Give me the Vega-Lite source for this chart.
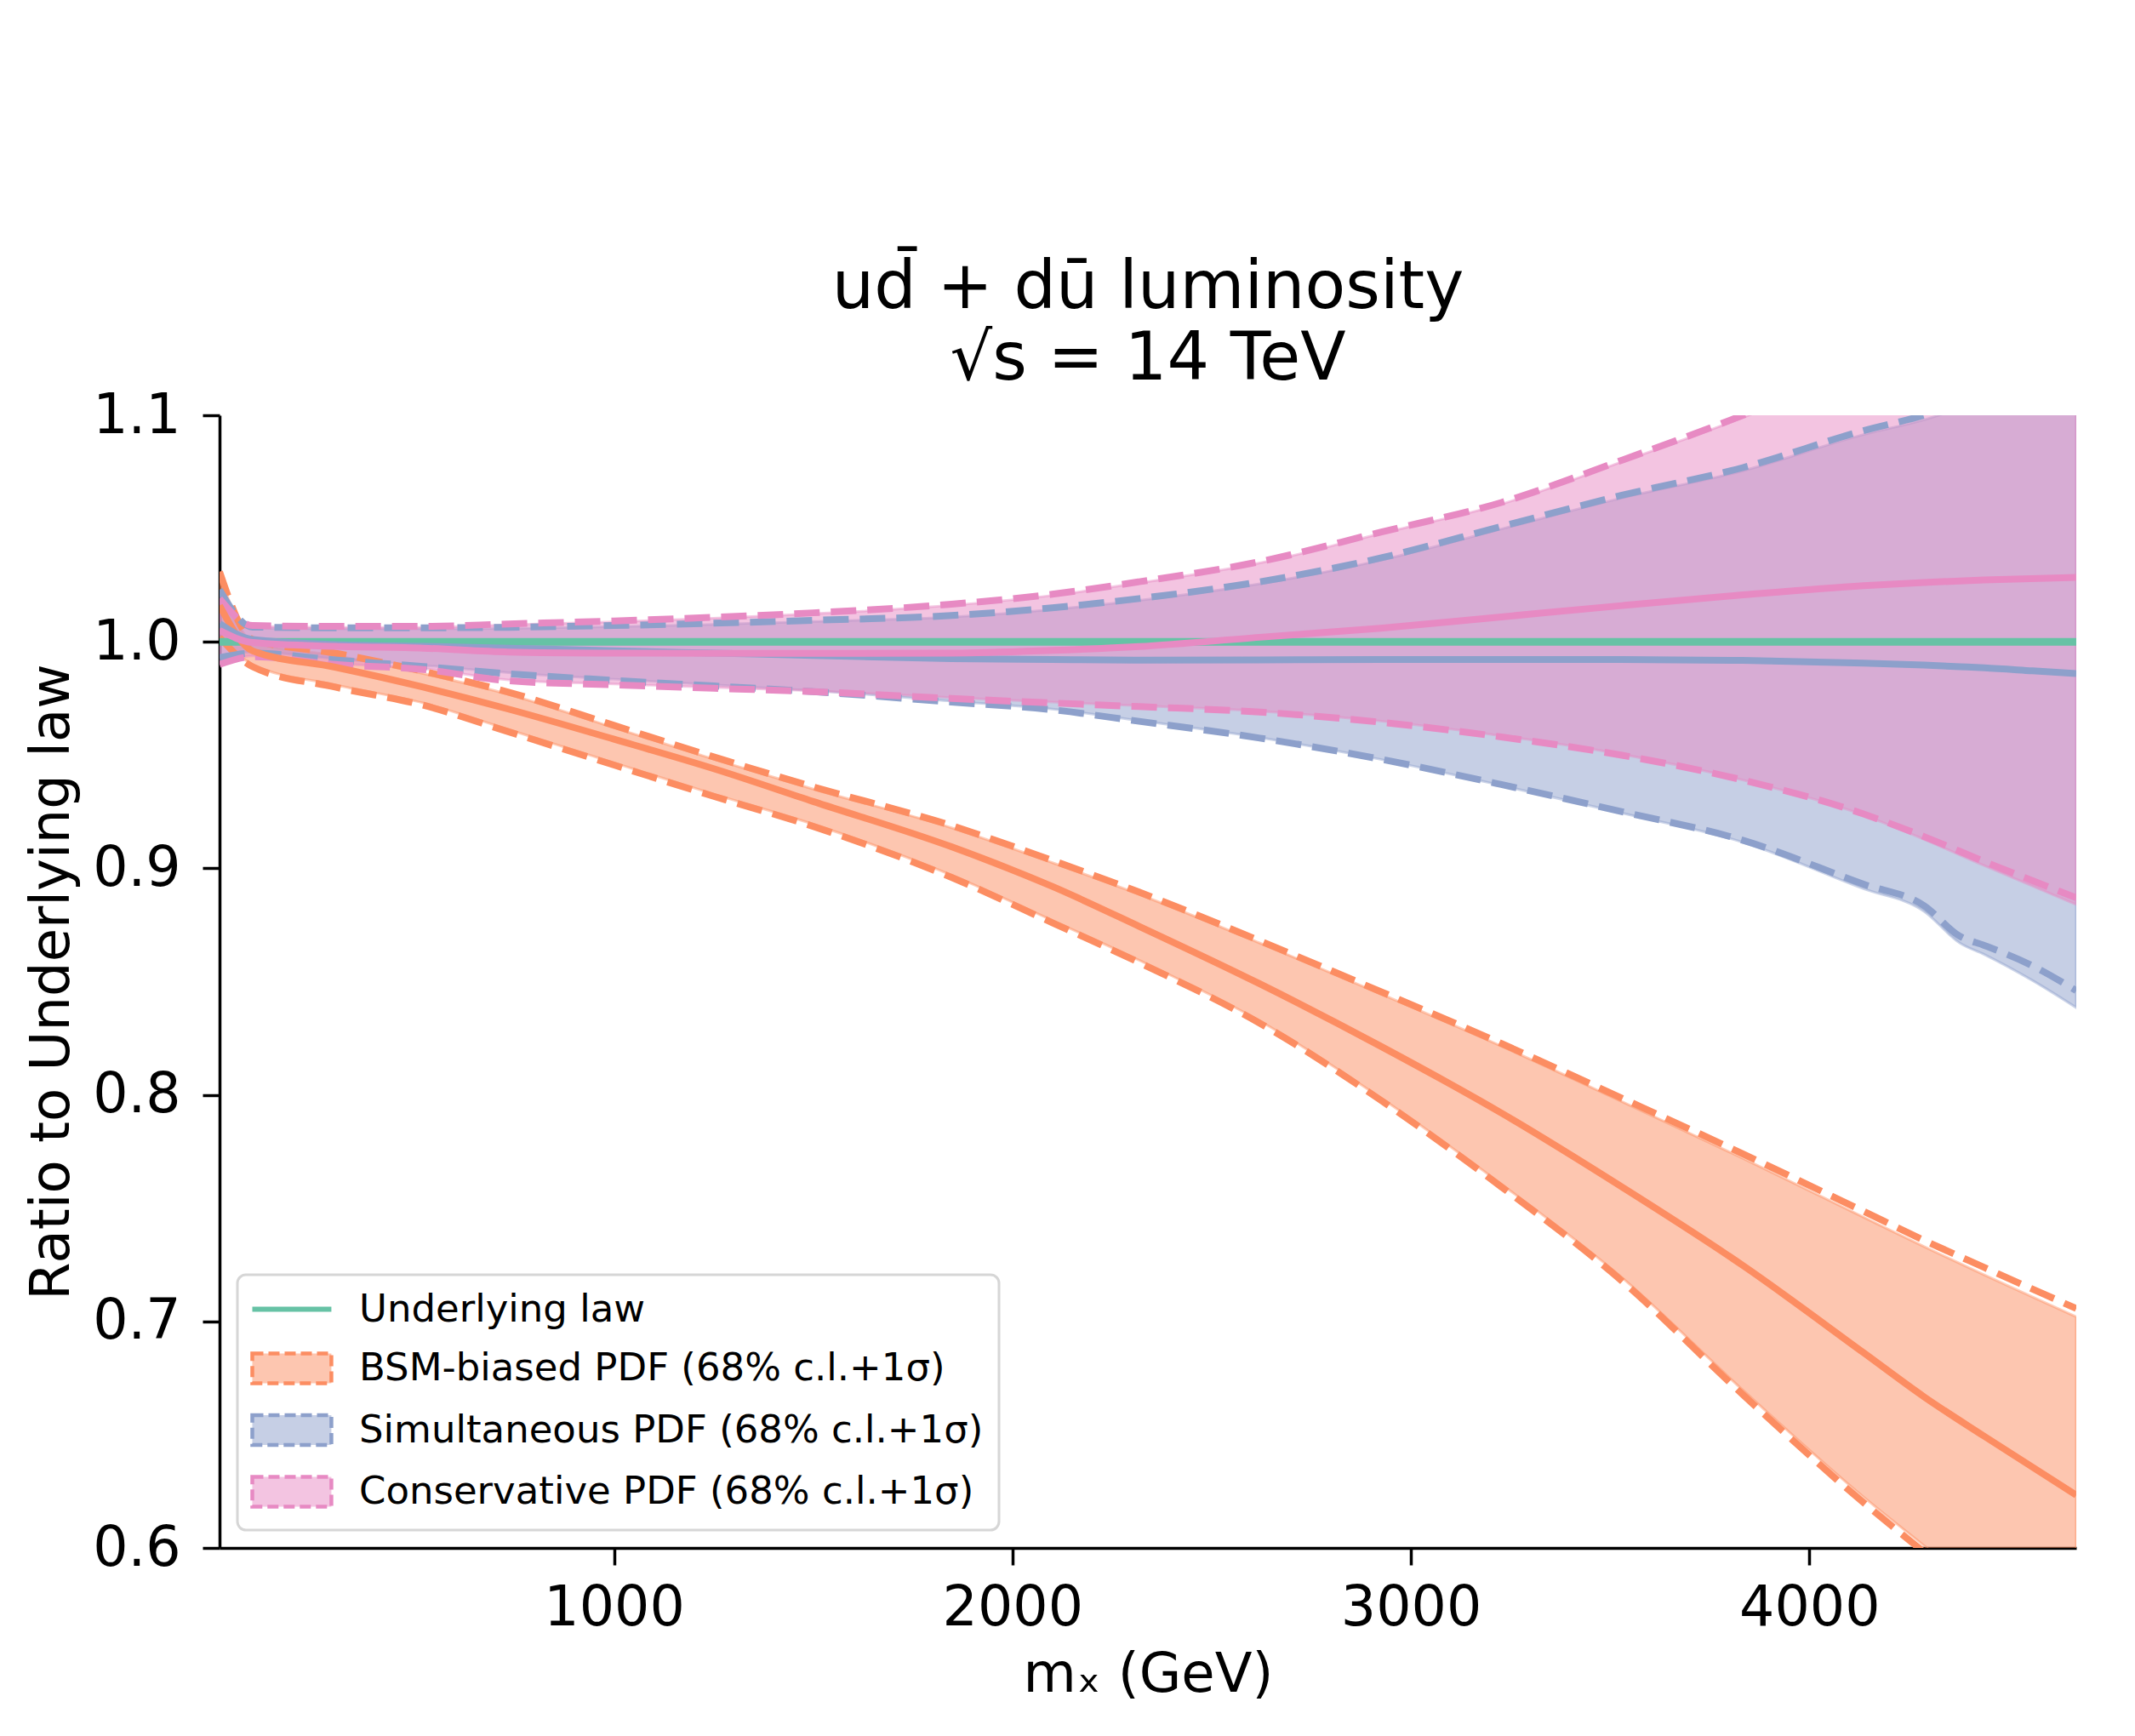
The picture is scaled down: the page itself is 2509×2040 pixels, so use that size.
{
  "$schema": "https://vega.github.io/schema/vega-lite/v6.json",
  "width": 2182,
  "height": 1331,
  "autosize": {"type": "none"},
  "padding": {"left": 258, "top": 488, "right": 69, "bottom": 221},
  "background": "white",
  "title": {
    "text": ["ud\u0304 + dū luminosity", "√s = 14 TeV"],
    "font": "DejaVu Sans",
    "fontSize": 78,
    "fontWeight": "normal",
    "color": "black",
    "lineHeight": 84,
    "offset": -6,
    "anchor": "middle"
  },
  "datasets": {
    "bands": [
      {"s": "BSM", "x": 10, "c": 1.016, "hi": 1.031, "lo": 1.002, "bhi": 1.030, "blo": 1.003},
      {"s": "BSM", "x": 93, "c": 0.996, "hi": 1.001, "lo": 0.989, "bhi": 1.000, "blo": 0.990},
      {"s": "BSM", "x": 300, "c": 0.9888, "hi": 0.995, "lo": 0.980, "bhi": 0.994, "blo": 0.981},
      {"s": "BSM", "x": 521, "c": 0.980, "hi": 0.987, "lo": 0.972, "bhi": 0.986, "blo": 0.973},
      {"s": "BSM", "x": 735, "c": 0.9703, "hi": 0.9778, "lo": 0.9603, "bhi": 0.9768, "blo": 0.9613},
      {"s": "BSM", "x": 1000, "c": 0.957, "hi": 0.9631, "lo": 0.9456, "bhi": 0.9621, "blo": 0.9466},
      {"s": "BSM", "x": 1250, "c": 0.944, "hi": 0.9492, "lo": 0.9318, "bhi": 0.9482, "blo": 0.9328},
      {"s": "BSM", "x": 1500, "c": 0.9295, "hi": 0.936, "lo": 0.9185, "bhi": 0.935, "blo": 0.9195},
      {"s": "BSM", "x": 1847, "c": 0.9095, "hi": 0.9189, "lo": 0.896, "bhi": 0.9179, "blo": 0.897},
      {"s": "BSM", "x": 2100, "c": 0.892, "hi": 0.9035, "lo": 0.876, "bhi": 0.9025, "blo": 0.877},
      {"s": "BSM", "x": 2318, "c": 0.8744, "hi": 0.8895, "lo": 0.8584, "bhi": 0.8885, "blo": 0.8594},
      {"s": "BSM", "x": 2621, "c": 0.849, "hi": 0.868, "lo": 0.8316, "bhi": 0.867, "blo": 0.8326},
      {"s": "BSM", "x": 2924, "c": 0.8215, "hi": 0.8456, "lo": 0.7977, "bhi": 0.8446, "blo": 0.7987},
      {"s": "BSM", "x": 3227, "c": 0.792, "hi": 0.8227, "lo": 0.7594, "bhi": 0.8215, "blo": 0.7606},
      {"s": "BSM", "x": 3530, "c": 0.7593, "hi": 0.7985, "lo": 0.7178, "bhi": 0.797, "blo": 0.7193},
      {"s": "BSM", "x": 3833, "c": 0.7247, "hi": 0.774, "lo": 0.6677, "bhi": 0.772, "blo": 0.6697},
      {"s": "BSM", "x": 4136, "c": 0.6862, "hi": 0.7486, "lo": 0.62, "bhi": 0.746, "blo": 0.6225},
      {"s": "BSM", "x": 4288, "c": 0.6667, "hi": 0.7358, "lo": 0.5981, "bhi": 0.733, "blo": 0.601},
      {"s": "BSM", "x": 4439, "c": 0.6493, "hi": 0.7238, "lo": 0.5763, "bhi": 0.7205, "blo": 0.5795},
      {"s": "BSM", "x": 4670, "c": 0.6233, "hi": 0.7057, "lo": 0.543, "bhi": 0.702, "blo": 0.547},

      {"s": "Sim", "x": 10, "c": 1.008, "hi": 1.023, "lo": 0.993, "bhi": 1.022, "blo": 0.994},
      {"s": "Sim", "x": 93, "c": 1.001, "hi": 1.0065, "lo": 0.995, "bhi": 1.006, "blo": 0.9955},
      {"s": "Sim", "x": 300, "c": 0.9988, "hi": 1.0062, "lo": 0.992, "bhi": 1.0057, "blo": 0.9925},
      {"s": "Sim", "x": 521, "c": 0.998, "hi": 1.0062, "lo": 0.9891, "bhi": 1.0057, "blo": 0.9896},
      {"s": "Sim", "x": 735, "c": 0.9972, "hi": 1.0064, "lo": 0.9859, "bhi": 1.0059, "blo": 0.9864},
      {"s": "Sim", "x": 1000, "c": 0.996, "hi": 1.0072, "lo": 0.983, "bhi": 1.0067, "blo": 0.9835},
      {"s": "Sim", "x": 1250, "c": 0.995, "hi": 1.0082, "lo": 0.9805, "bhi": 1.0077, "blo": 0.981},
      {"s": "Sim", "x": 1500, "c": 0.994, "hi": 1.0095, "lo": 0.978, "bhi": 1.009, "blo": 0.9785},
      {"s": "Sim", "x": 1847, "c": 0.9926, "hi": 1.0116, "lo": 0.9734, "bhi": 1.011, "blo": 0.9738},
      {"s": "Sim", "x": 2100, "c": 0.9922, "hi": 1.015, "lo": 0.970, "bhi": 1.0143, "blo": 0.9703},
      {"s": "Sim", "x": 2318, "c": 0.9919, "hi": 1.0191, "lo": 0.9649, "bhi": 1.0183, "blo": 0.9652},
      {"s": "Sim", "x": 2621, "c": 0.992, "hi": 1.0265, "lo": 0.9575, "bhi": 1.0256, "blo": 0.9577},
      {"s": "Sim", "x": 2924, "c": 0.9922, "hi": 1.037, "lo": 0.9482, "bhi": 1.036, "blo": 0.9481},
      {"s": "Sim", "x": 3227, "c": 0.9922, "hi": 1.0509, "lo": 0.937, "bhi": 1.0498, "blo": 0.9366},
      {"s": "Sim", "x": 3530, "c": 0.9922, "hi": 1.0647, "lo": 0.925, "bhi": 1.0635, "blo": 0.9244},
      {"s": "Sim", "x": 3833, "c": 0.9918, "hi": 1.0769, "lo": 0.9124, "bhi": 1.0755, "blo": 0.9115},
      {"s": "Sim", "x": 4136, "c": 0.9906, "hi": 1.0932, "lo": 0.893, "bhi": 1.0915, "blo": 0.891},
      {"s": "Sim", "x": 4288, "c": 0.9897, "hi": 1.1, "lo": 0.8835, "bhi": 1.098, "blo": 0.881},
      {"s": "Sim", "x": 4378, "c": 0.989, "hi": 1.105, "lo": 0.870, "bhi": 1.103, "blo": 0.867},
      {"s": "Sim", "x": 4439, "c": 0.9885, "hi": 1.108, "lo": 0.866, "bhi": 1.106, "blo": 0.862},
      {"s": "Sim", "x": 4560, "c": 0.9872, "hi": 1.115, "lo": 0.857, "bhi": 1.113, "blo": 0.8505},
      {"s": "Sim", "x": 4670, "c": 0.986, "hi": 1.12, "lo": 0.846, "bhi": 1.118, "blo": 0.8385},

      {"s": "Con", "x": 10, "c": 1.005, "hi": 1.019, "lo": 0.990, "bhi": 1.018, "blo": 0.9905},
      {"s": "Con", "x": 93, "c": 0.9997, "hi": 1.0072, "lo": 0.9934, "bhi": 1.0068, "blo": 0.9938},
      {"s": "Con", "x": 300, "c": 0.998, "hi": 1.0068, "lo": 0.990, "bhi": 1.0064, "blo": 0.9904},
      {"s": "Con", "x": 521, "c": 0.9972, "hi": 1.0068, "lo": 0.9878, "bhi": 1.0064, "blo": 0.9882},
      {"s": "Con", "x": 735, "c": 0.9955, "hi": 1.0079, "lo": 0.9828, "bhi": 1.0075, "blo": 0.9832},
      {"s": "Con", "x": 1000, "c": 0.995, "hi": 1.0092, "lo": 0.981, "bhi": 1.0088, "blo": 0.9814},
      {"s": "Con", "x": 1250, "c": 0.9949, "hi": 1.0108, "lo": 0.9795, "bhi": 1.0104, "blo": 0.9799},
      {"s": "Con", "x": 1500, "c": 0.9949, "hi": 1.0128, "lo": 0.978, "bhi": 1.0124, "blo": 0.9784},
      {"s": "Con", "x": 1847, "c": 0.995, "hi": 1.0166, "lo": 0.975, "bhi": 1.0161, "blo": 0.9754},
      {"s": "Con", "x": 2100, "c": 0.9962, "hi": 1.021, "lo": 0.973, "bhi": 1.0205, "blo": 0.9734},
      {"s": "Con", "x": 2318, "c": 0.9979, "hi": 1.0265, "lo": 0.9714, "bhi": 1.026, "blo": 0.9718},
      {"s": "Con", "x": 2621, "c": 1.002, "hi": 1.0354, "lo": 0.969, "bhi": 1.0348, "blo": 0.9694},
      {"s": "Con", "x": 2924, "c": 1.006, "hi": 1.0484, "lo": 0.9645, "bhi": 1.0478, "blo": 0.965},
      {"s": "Con", "x": 3227, "c": 1.011, "hi": 1.0615, "lo": 0.958, "bhi": 1.0608, "blo": 0.9585},
      {"s": "Con", "x": 3530, "c": 1.016, "hi": 1.0802, "lo": 0.9499, "bhi": 1.0795, "blo": 0.9503},
      {"s": "Con", "x": 3833, "c": 1.0207, "hi": 1.1, "lo": 0.939, "bhi": 1.099, "blo": 0.939},
      {"s": "Con", "x": 4136, "c": 1.0248, "hi": 1.122, "lo": 0.924, "bhi": 1.121, "blo": 0.9235},
      {"s": "Con", "x": 4288, "c": 1.0262, "hi": 1.134, "lo": 0.914, "bhi": 1.133, "blo": 0.9128},
      {"s": "Con", "x": 4439, "c": 1.0273, "hi": 1.146, "lo": 0.903, "bhi": 1.145, "blo": 0.9012},
      {"s": "Con", "x": 4670, "c": 1.0284, "hi": 1.165, "lo": 0.887, "bhi": 1.163, "blo": 0.884}
    ],
    "law": [
      {"s": "Law", "x": 10, "c": 1.0},
      {"s": "Law", "x": 4670, "c": 1.0}
    ]
  },
  "config": {
    "view": {"stroke": null},
    "axis": {
      "domainColor": "black",
      "domainWidth": 3.5,
      "tickColor": "black",
      "tickWidth": 3.5,
      "tickSize": 20,
      "grid": false,
      "labelFont": "DejaVu Sans",
      "labelFontSize": 65,
      "labelColor": "black",
      "titleFont": "DejaVu Sans",
      "titleFontSize": 64,
      "titleFontWeight": "normal",
      "titleColor": "black"
    },
    "legend": {
      "orient": "bottom-left",
      "offset": 21,
      "padding": 18,
      "strokeColor": "#d6d6d6",
      "strokeWidth": 3,
      "cornerRadius": 10,
      "fillColor": "rgba(255,255,255,0.85)",
      "labelFont": "DejaVu Sans",
      "labelFontSize": 45,
      "labelColor": "black",
      "labelLimit": 2000,
      "symbolSize": 2116,
      "symbolStrokeWidth": 4,
      "labelOffset": 80,
      "rowPadding": 19.5
    }
  },
  "encoding": {
    "x": {
      "field": "x",
      "type": "quantitative",
      "scale": {"domain": [10, 4670], "nice": false, "zero": false},
      "axis": {"values": [1000, 2000, 3000, 4000], "format": "d", "labelPadding": 19, "titlePadding": 14, "labelFlush": false},
      "title": "mₓ (GeV)"
    }
  },
  "layer": [
    {
      "data": {"name": "bands"},
      "transform": [{"filter": "datum.s === 'BSM'"}],
      "mark": {"type": "area", "interpolate": "monotone", "color": "#fc8d62", "fillOpacity": 0.5, "stroke": "#fc8d62", "strokeOpacity": 0.45, "strokeWidth": 3, "clip": true},
      "encoding": {
        "y": {"field": "blo", "type": "quantitative", "scale": {"domain": [0.6, 1.1], "nice": false, "zero": false},
              "axis": {"values": [0.6, 0.7, 0.8, 0.9, 1.0, 1.1], "format": ".1f", "labelPadding": 26, "titlePadding": 15, "labelFlush": false},
              "title": "Ratio to Underlying law"},
        "y2": {"field": "bhi"}
      }
    },
    {
      "data": {"name": "bands"},
      "transform": [{"filter": "datum.s === 'Sim'"}],
      "mark": {"type": "area", "interpolate": "monotone", "color": "#8da0cb", "fillOpacity": 0.5, "stroke": "#8da0cb", "strokeOpacity": 0.45, "strokeWidth": 3, "clip": true},
      "encoding": {
        "y": {"field": "blo", "type": "quantitative", "title": "Ratio to Underlying law"},
        "y2": {"field": "bhi"}
      }
    },
    {
      "data": {"name": "bands"},
      "transform": [{"filter": "datum.s === 'Con'"}],
      "mark": {"type": "area", "interpolate": "monotone", "color": "#e78ac3", "fillOpacity": 0.5, "stroke": "#e78ac3", "strokeOpacity": 0.45, "strokeWidth": 3, "clip": true},
      "encoding": {
        "y": {"field": "blo", "type": "quantitative", "title": "Ratio to Underlying law"},
        "y2": {"field": "bhi"}
      }
    },
    {
      "data": {"name": "bands"},
      "mark": {"type": "line", "interpolate": "monotone", "strokeWidth": 8, "strokeDash": [30, 13], "clip": true},
      "encoding": {
        "y": {"field": "hi", "type": "quantitative", "title": "Ratio to Underlying law"},
        "color": {"field": "s", "type": "nominal", "scale": {"domain": ["Law", "BSM", "Sim", "Con"], "range": ["#66c2a5", "#fc8d62", "#8da0cb", "#e78ac3"]}}
      }
    },
    {
      "data": {"name": "bands"},
      "mark": {"type": "line", "interpolate": "monotone", "strokeWidth": 8, "strokeDash": [30, 13], "clip": true},
      "encoding": {
        "y": {"field": "lo", "type": "quantitative", "title": "Ratio to Underlying law"},
        "color": {"field": "s", "type": "nominal", "scale": {"domain": ["Law", "BSM", "Sim", "Con"], "range": ["#66c2a5", "#fc8d62", "#8da0cb", "#e78ac3"]}}
      }
    },
    {
      "data": {"name": "law"},
      "mark": {"type": "line", "strokeWidth": 9, "clip": true},
      "encoding": {
        "y": {"field": "c", "type": "quantitative", "title": "Ratio to Underlying law"},
        "color": {"field": "s", "type": "nominal", "scale": {"domain": ["Law", "BSM", "Sim", "Con"], "range": ["#66c2a5", "#fc8d62", "#8da0cb", "#e78ac3"]}}
      }
    },
    {
      "data": {"name": "bands"},
      "mark": {"type": "line", "interpolate": "monotone", "strokeWidth": 8, "clip": true},
      "encoding": {
        "y": {"field": "c", "type": "quantitative", "title": "Ratio to Underlying law"},
        "color": {
          "field": "s", "type": "nominal",
          "scale": {"domain": ["Law", "BSM", "Sim", "Con"], "range": ["#66c2a5", "#fc8d62", "#8da0cb", "#e78ac3"]},
          "legend": {
            "title": null,
            "labelExpr": "datum.value === 'Law' ? 'Underlying law' : datum.value === 'BSM' ? 'BSM-biased PDF (68% c.l.+1σ)' : datum.value === 'Sim' ? 'Simultaneous PDF (68% c.l.+1σ)' : 'Conservative PDF (68% c.l.+1σ)'",
            "encode": {
              "symbols": {
                "update": {
                  "shape": {"signal": "datum.value === 'Law' ? 'M-1,0H3.04' : 'M-1,-0.76H3.04V0.76H-1Z'"},
                  "fill": {"signal": "datum.value === 'BSM' ? '#fdc6b0' : datum.value === 'Sim' ? '#c6cfe5' : datum.value === 'Con' ? '#f3c4e1' : 'transparent'"},
                  "fillOpacity": {"value": 1},
                  "stroke": {"signal": "datum.value === 'Law' ? '#66c2a5' : datum.value === 'BSM' ? '#fc8d62' : datum.value === 'Sim' ? '#8da0cb' : '#e78ac3'"},
                  "strokeDash": {"signal": "datum.value === 'Law' ? [] : [13, 6]"},
                  "strokeWidth": {"signal": "datum.value === 'Law' ? 6 : 4.5"},
                  "opacity": {"value": 1}
                }
              }
            }
          }
        }
      }
    }
  ]
}
